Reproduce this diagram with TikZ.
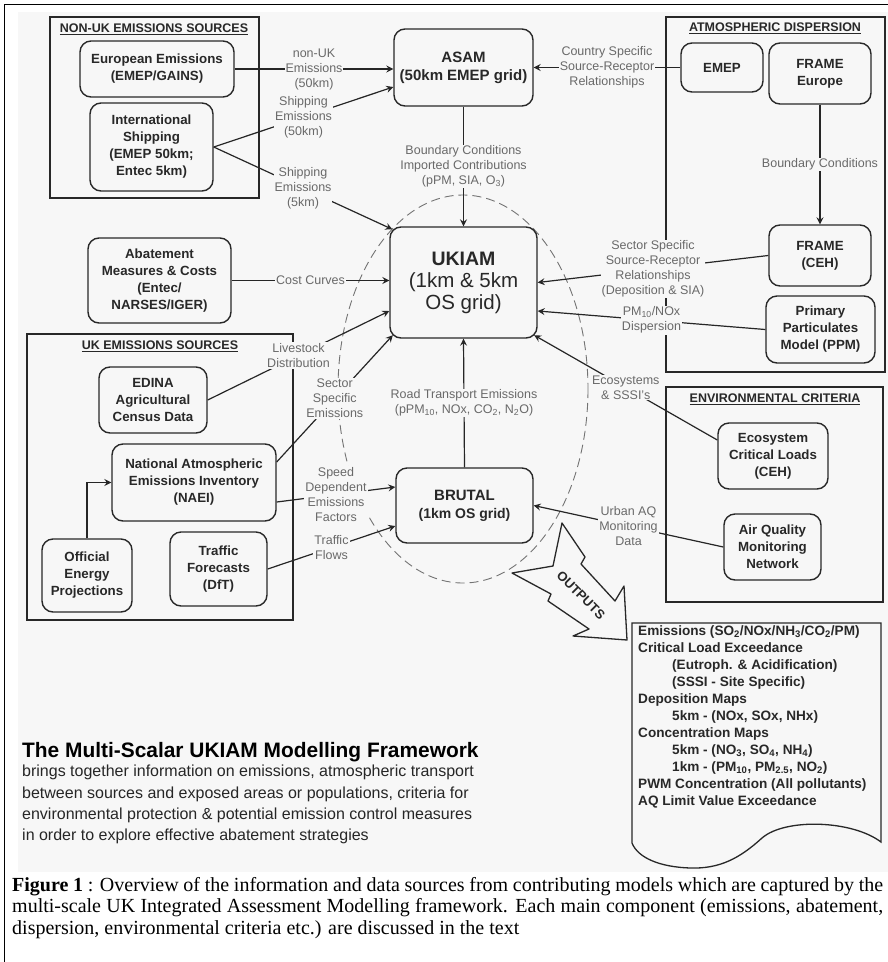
\documentclass[tikz,border=0pt]{standalone}
\usepackage{fontspec}
\setmainfont{Liberation Sans}
\newfontfamily\captionserif{Liberation Serif}
\usetikzlibrary{arrows.meta,positioning,calc}

\definecolor{paper}{RGB}{247,247,247}
\definecolor{ink}{RGB}{40,40,40}
\definecolor{lblgray}{RGB}{105,105,105}

\tikzset{
  modelbox/.style={draw=ink, line width=1.4pt, rounded corners=11pt, fill=paper, text=ink,
    align=center, inner sep=0pt, font=\fontsize{13.3}{17}\selectfont\bfseries},
  gridbox/.style={modelbox, font=\fontsize{15}{18}\selectfont\bfseries},
  groupframe/.style={draw=ink, line width=1.4pt},
  grouptitle/.style={text=ink, font=\fontsize{12.5}{14}\selectfont\bfseries},
  flowlbl/.style={fill=paper, text=lblgray, align=center, inner sep=1pt,
    font=\fontsize{12.5}{15}\selectfont},
  flow/.style={draw=black!85, line width=1.2pt, -{Stealth[length=7pt,width=7pt,inset=2.5pt]}}
}

\begin{document}
\begin{tikzpicture}[x=1pt,y=-1pt]
    \useasboundingbox (0,0) rectangle (888,962);
    \fill[white] (0,0) rectangle (888,962);
    \fill[paper] (18,12) rectangle (888,872);
    \draw[line width=1pt] (4,962) -- (4,4) -- (888,4);

    % dashed ellipse round the UK models
    \draw[black!55, line width=0.9pt, dash pattern=on 9pt off 5pt] (463,389) ellipse [x radius=125, y radius=194];

    % group frames
    \draw[groupframe] (50,17) rectangle (259,198);
    \node[grouptitle] (nonuktitle) at (154,29) {\underline{NON-UK EMISSIONS SOURCES}};
    \draw[groupframe] (666,17) rectangle (885,372);
    \node[grouptitle] (atmostitle) at (775,28) {\underline{ATMOSPHERIC DISPERSION}};
    \draw[groupframe] (27,334) rectangle (293,620);
    \node[grouptitle] (ukemtitle) at (160,346) {\underline{UK EMISSIONS SOURCES}};
    \draw[groupframe] (666,387) rectangle (883,602);
    \node[grouptitle] (envtitle) at (775,399) {\underline{ENVIRONMENTAL CRITERIA}};

    % non-UK sources
    \node[modelbox, minimum width=154pt, minimum height=56pt] (euro) at (157,69) {European Emissions\\(EMEP/GAINS)};
    \node[modelbox, minimum width=123pt, minimum height=88pt] (ship) at (151.5,147) {International\\Shipping\\(EMEP 50km;\\Entec 5km)};

    % central models
    \node[gridbox, minimum width=139pt, minimum height=77pt] (asam) at (463.5,67.5) {ASAM\\(50km EMEP grid)};
    \node[modelbox, minimum width=147pt, minimum height=111pt, font=\fontsize{20.5}{22}\selectfont] (ukiam) at (463.5,282.5) {{\fontsize{19.5}{22}\selectfont\bfseries UKIAM}\\(1km \& 5km\\OS grid)};
    \node[modelbox, minimum width=137pt, minimum height=75pt, font=\fontsize{14}{18}\selectfont\bfseries] (brutal) at (464.5,505.5) {{\fontsize{15}{18}\selectfont BRUTAL}\\(1km OS grid)};

    % dispersion models
    \node[modelbox, minimum width=82pt, minimum height=49pt] (emep) at (722,67.5) {EMEP};
    \node[modelbox, minimum width=102pt, minimum height=61pt] (fre) at (820,73.5) {FRAME\\Europe};
    \node[modelbox, minimum width=102pt, minimum height=61pt] (fceh) at (820,255.5) {FRAME\\(CEH)};
    \node[modelbox, minimum width=109pt, minimum height=67pt] (ppm) at (820.5,329.5) {Primary\\Particulates\\Model (PPM)};

    % environmental criteria
    \node[modelbox, minimum width=110pt, minimum height=66pt] (eco) at (773,456) {Ecosystem\\Critical Loads\\(CEH)};
    \node[modelbox, minimum width=97pt, minimum height=66pt] (aq) at (772.5,547) {Air Quality\\Monitoring\\Network};

    % abatement and UK sources
    \node[modelbox, minimum width=143pt, minimum height=85pt] (abate) at (159.5,280.5) {Abatement\\Measures \& Costs\\(Entec/\\NARSES/IGER)};
    \node[modelbox, minimum width=108pt, minimum height=66pt] (edina) at (153,400) {EDINA\\Agricultural\\Census Data};
    \node[modelbox, minimum width=164pt, minimum height=77pt] (naei) at (194,482.5) {National Atmospheric\\Emissions Inventory\\(NAEI)};
    \node[modelbox, minimum width=90pt, minimum height=73pt] (oep) at (87,575.5) {Official\\Energy\\Projections};
    \node[modelbox, minimum width=97pt, minimum height=74pt] (tf) at (218.5,569) {Traffic\\Forecasts\\(DfT)};

    % flows into ASAM
    \draw[flow] (euro.east) -- node[flowlbl] (lblnonuk) {non-UK\\Emissions\\(50km)} (asam.west |- euro.east);
    \draw[flow] (ship.east) -- node[flowlbl] (lblship50) {Shipping\\Emissions\\(50km)} ([yshift=-19.5pt]asam.west);
    \draw[flow] (ship.east) -- node[flowlbl] (lblship5) {Shipping\\Emissions\\(5km)} ($(ukiam.north west)+(3,3)$);
    \draw[flow] (asam.south) -- node[flowlbl] (lblbound) {Boundary Conditions\\Imported Contributions\\(pPM, SIA, O\textsubscript{3})} (ukiam.north);

    % flows from dispersion models
    \draw[flow] (emep.west) -- node[flowlbl] (lblcountry) {Country Specific\\Source-Receptor\\Relationships} (asam.east);
    \draw[flow] (fre.south) -- node[flowlbl] (lblframe) {Boundary Conditions} (fceh.north);
    \draw[flow] (fceh.west) -- node[flowlbl] (lblsector) {Sector Specific\\Source-Receptor\\Relationships\\(Deposition \& SIA)} (ukiam.east);
    \draw[flow] (ppm.west) -- node[flowlbl] (lblppm) {PM\textsubscript{10}/NOx\\Dispersion} ([yshift=-28.5pt]ukiam.east);

    % flows from criteria
    \draw[flow] ([yshift=16pt]eco.west) -- node[flowlbl] (lbleco) {Ecosystems\\\& SSSI's} ($(ukiam.south east)+(-3.5,-3.5)$);
    \draw[flow] (aq.west) -- node[flowlbl] (lblaq) {Urban AQ\\Monitoring\\Data} (brutal.east);
    \draw[flow] (brutal.north) -- node[flowlbl] (lblroad) {Road Transport Emissions\\(pPM\textsubscript{10}, NOx, CO\textsubscript{2}, N\textsubscript{2}O)} (ukiam.south);

    % flows from UK sources
    \draw[flow] (abate.east) -- node[flowlbl] (lblcost) {Cost Curves} (ukiam.west |- abate.east);
    \draw[flow] (edina.east) -- node[flowlbl] (lbllive) {Livestock\\Distribution} ([yshift=-28.5pt]ukiam.west);
    \draw[flow] ([yshift=20.5pt]naei.east) -- node[flowlbl] (lblsectem) {Sector\\Specific\\Emissions} ($(ukiam.south west)+(3.5,-3.5)$);
    \draw[flow] ([yshift=-19.5pt]naei.east) -- node[flowlbl] (lblspeed) {Speed\\Dependent\\Emissions\\Factors} ([yshift=18.5pt]brutal.west);
    \draw[flow] (tf.east) -- node[flowlbl] (lbltraffic) {Traffic\\Flows} ([yshift=-20.5pt]brutal.west);
    \draw[flow] (oep.north) |- (naei.west);

    % outputs arrow
    \draw[ink, line width=1.3pt, fill=paper, line join=round] (562,523) -- (585,557) -- (581,564) -- (615,601) -- (624,586) -- (627,640) -- (573,636) -- (589,629) -- (548,601) -- (551,594) -- (512,573) -- (553,566) -- cycle;
    \node[rotate=-45, text=ink, inner sep=0pt, font=\fontsize{13}{15}\selectfont\bfseries] (outlbl) at (581,595) {OUTPUTS};

    % outputs list
    \draw[ink, line width=1.3pt, fill=paper] (632,623) -- (881,623) -- (881,842) .. controls (852,820) and (785,818) .. (762,838) .. controls (740,858) and (720,869) .. (690,868) .. controls (660,867) and (638,858) .. (632,843) -- cycle;
    \node[anchor=north west, align=left, inner sep=0pt, text=ink, font=\fontsize{13.6}{17}\selectfont\bfseries] (outtext) at (638,625) {Emissions (SO\textsubscript{2}/NOx/NH\textsubscript{3}/CO\textsubscript{2}/PM)\\
      Critical Load Exceedance\\
      \hspace*{34pt}(Eutroph. \& Acidification)\\
      \hspace*{34pt}(SSSI - Site Specific)\\
      Deposition Maps\\
      \hspace*{34pt}5km - (NOx, SOx, NHx)\\
      Concentration Maps\\
      \hspace*{34pt}5km - (NO\textsubscript{3}, SO\textsubscript{4}, NH\textsubscript{4})\\
      \hspace*{34pt}1km - (PM\textsubscript{10}, PM\textsubscript{2.5}, NO\textsubscript{2})\\
      PWM Concentration (All pollutants)\\
      AQ Limit Value Exceedance};

    % framework title and text
    \node[anchor=base west, inner sep=0pt, font=\fontsize{20.9}{24}\selectfont\bfseries] (fwtitle) at (22,757) {The Multi-Scalar UKIAM Modelling Framework};
    \node[anchor=north west, align=left, inner sep=0pt, text=black!85, font=\fontsize{16}{21.3}\selectfont] (fwtext) at (22,765) {brings together information on emissions, atmospheric transport\\
      between sources and exposed areas or populations, criteria for\\
      environmental protection \& potential emission control measures\\
      in order to explore effective abatement strategies};

    % figure caption
    \node[anchor=north west, inner sep=0pt, text width=871pt, align=justify, font=\captionserif\fontsize{20}{21.5}\selectfont] (figcap) at (12,877) {\textbf{Figure 1} : Overview of the information and data sources from contributing models which are captured by the\linebreak multi-scale UK Integrated Assessment Modelling framework. Each main component (emissions, abatement,\linebreak dispersion, environmental criteria etc.) are discussed in the text};
\end{tikzpicture}
\end{document}
